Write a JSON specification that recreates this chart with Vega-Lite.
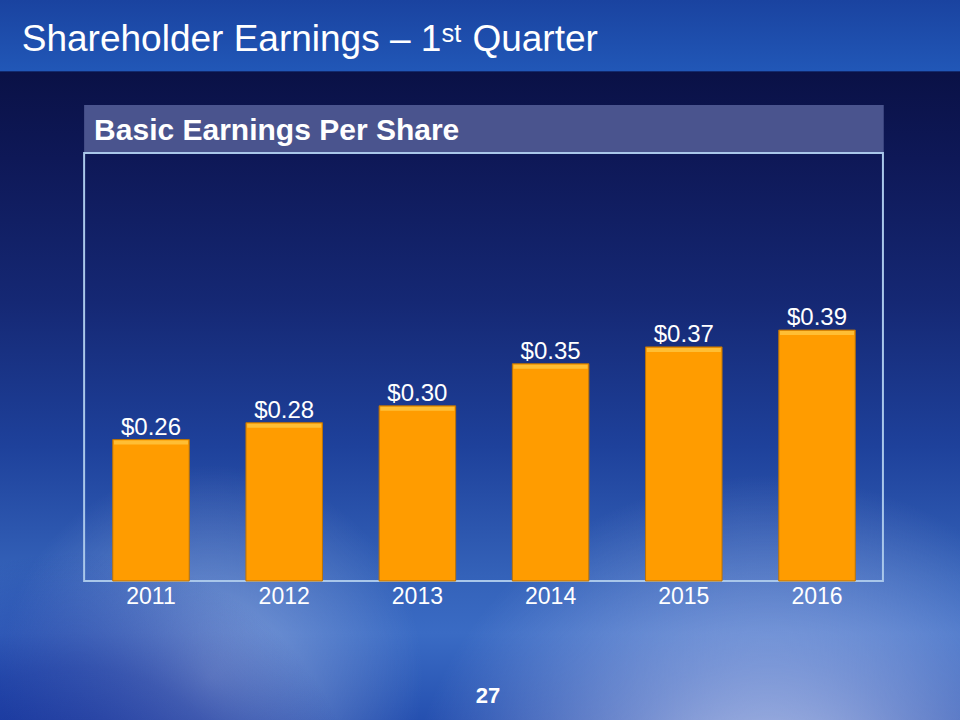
{
  "$schema": "https://vega.github.io/schema/vega-lite/v6.json",
  "width": 960,
  "height": 720,
  "padding": 0,
  "autosize": {"type": "none"},
  "background": "#0c1450",
  "config": {"view": {"stroke": null}, "font": "Liberation Sans"},
  "data": {
    "values": [
      {"year": 2011, "eps": 0.26},
      {"year": 2012, "eps": 0.28},
      {"year": 2013, "eps": 0.30},
      {"year": 2014, "eps": 0.35},
      {"year": 2015, "eps": 0.37},
      {"year": 2016, "eps": 0.39}
    ]
  },
  "layer": [
    {
      "data": {"values": [{"k": 1}]},
      "mark": {
        "type": "rect",
        "fill": {
          "gradient": "linear", "x1": 0, "y1": 0, "x2": 0, "y2": 1,
          "stops": [
            {"offset": 0, "color": "#1a43a0"},
            {"offset": 0.098, "color": "#2157b7"},
            {"offset": 0.1, "color": "#0a1146"},
            {"offset": 0.22, "color": "#0e1857"},
            {"offset": 0.42, "color": "#152874"},
            {"offset": 0.62, "color": "#1e419b"},
            {"offset": 0.8, "color": "#3462b9"},
            {"offset": 0.88, "color": "#3a6bc4"},
            {"offset": 1, "color": "#2550b0"}
          ]
        }
      },
      "encoding": {}
    },
    {
      "data": {"values": [{"k": 1}]},
      "mark": {
        "type": "rect",
        "fill": {
          "gradient": "radial", "x1": 0.22, "y1": 0.83, "r1": 0, "x2": 0.22, "y2": 0.83, "r2": 0.22,
          "stops": [
            {"offset": 0, "color": "rgba(175,190,228,0.6)"},
            {"offset": 1, "color": "rgba(175,190,228,0)"}
          ]
        }
      },
      "encoding": {}
    },
    {
      "data": {"values": [{"k": 1}]},
      "mark": {
        "type": "rect",
        "fill": {
          "gradient": "radial", "x1": 0.08, "y1": 1.0, "r1": 0, "x2": 0.08, "y2": 1.0, "r2": 0.3,
          "stops": [
            {"offset": 0, "color": "rgba(22,45,150,0.85)"},
            {"offset": 0.6, "color": "rgba(22,45,150,0.5)"},
            {"offset": 1, "color": "rgba(22,45,150,0)"}
          ]
        }
      },
      "encoding": {}
    },
    {
      "data": {"values": [{"k": 1}]},
      "mark": {
        "type": "rect",
        "fill": {
          "gradient": "radial", "x1": 0.8, "y1": 1.0, "r1": 0, "x2": 0.8, "y2": 1.0, "r2": 0.38,
          "stops": [
            {"offset": 0, "color": "rgba(240,242,255,0.9)"},
            {"offset": 0.5, "color": "rgba(205,212,245,0.45)"},
            {"offset": 1, "color": "rgba(190,200,240,0)"}
          ]
        }
      },
      "encoding": {}
    },
    {
      "data": {"values": [{"k": 1}]},
      "mark": {"type": "rect", "fill": "#4a548e"},
      "encoding": {
        "x": {"datum": 2010.498, "type": "quantitative", "scale": {"domain": [2009.904, 2017.036], "nice": false, "zero": false}, "axis": null},
        "x2": {"datum": 2016.501},
        "y": {"datum": 0.6573, "type": "quantitative", "scale": {"domain": [-0.0731, 0.782], "nice": false, "zero": false}, "axis": null},
        "y2": {"datum": 0.6003}
      }
    },
    {
      "data": {"values": [{"k": 1}]},
      "mark": {"type": "rect", "fill": "#000000", "fillOpacity": 0, "stroke": "#a9c7ea", "strokeWidth": 2},
      "encoding": {
        "x": {"datum": 2010.498, "type": "quantitative", "scale": {"domain": [2009.904, 2017.036], "nice": false, "zero": false}, "axis": null},
        "x2": {"datum": 2016.495},
        "y": {"datum": 0.6003, "type": "quantitative", "scale": {"domain": [-0.0731, 0.782], "nice": false, "zero": false}, "axis": null},
        "y2": {"datum": 0.092}
      }
    },
    {
      "mark": {"type": "bar", "width": 76.5, "fill": "#ff9c00", "stroke": "#b8720a", "strokeWidth": 1},
      "encoding": {
        "x": {"field": "year", "type": "quantitative", "scale": {"domain": [2009.904, 2017.036], "nice": false, "zero": false}, "axis": null},
        "y": {"field": "eps", "type": "quantitative", "scale": {"domain": [-0.0731, 0.782], "nice": false, "zero": false}, "axis": null},
        "y2": {"datum": 0.092}
      }
    },
    {
      "mark": {"type": "tick", "orient": "horizontal", "size": 74, "thickness": 4, "yOffset": 3, "color": "#ffc23a", "opacity": 0.9},
      "encoding": {
        "x": {"field": "year", "type": "quantitative", "scale": {"domain": [2009.904, 2017.036], "nice": false, "zero": false}, "axis": null},
        "y": {"field": "eps", "type": "quantitative", "scale": {"domain": [-0.0731, 0.782], "nice": false, "zero": false}, "axis": null}
      }
    },
    {
      "mark": {"type": "text", "fill": "#ffffff", "fontSize": 24, "baseline": "alphabetic", "align": "center", "dy": -5},
      "encoding": {
        "x": {"field": "year", "type": "quantitative", "scale": {"domain": [2009.904, 2017.036], "nice": false, "zero": false}, "axis": null},
        "y": {"field": "eps", "type": "quantitative", "scale": {"domain": [-0.0731, 0.782], "nice": false, "zero": false}, "axis": null},
        "text": {"field": "eps", "type": "quantitative", "format": "$.2f"}
      }
    },
    {
      "mark": {"type": "text", "fill": "#ffffff", "fontSize": 23, "baseline": "alphabetic", "align": "center"},
      "encoding": {
        "x": {"field": "year", "type": "quantitative", "scale": {"domain": [2009.904, 2017.036], "nice": false, "zero": false}, "axis": null},
        "y": {"datum": 0.0647, "type": "quantitative", "scale": {"domain": [-0.0731, 0.782], "nice": false, "zero": false}, "axis": null},
        "text": {"field": "year", "type": "quantitative", "format": "d"}
      }
    },
    {
      "data": {"values": [{"t": "Shareholder Earnings – 1ˢᵗ Quarter"}]},
      "mark": {"type": "text", "fill": "#ffffff", "fontSize": 37, "baseline": "alphabetic", "align": "left", "font": "Liberation Sans, DejaVu Sans"},
      "encoding": {
        "x": {"datum": 2010.03, "type": "quantitative", "scale": {"domain": [2009.904, 2017.036], "nice": false, "zero": false}, "axis": null},
        "y": {"datum": 0.7214, "type": "quantitative", "scale": {"domain": [-0.0731, 0.782], "nice": false, "zero": false}, "axis": null},
        "text": {"field": "t", "type": "nominal"}
      }
    },
    {
      "data": {"values": [{"t": "Basic Earnings Per Share"}]},
      "mark": {"type": "text", "fill": "#ffffff", "fontSize": 30, "fontWeight": "bold", "baseline": "alphabetic", "align": "left"},
      "encoding": {
        "x": {"datum": 2010.573, "type": "quantitative", "scale": {"domain": [2009.904, 2017.036], "nice": false, "zero": false}, "axis": null},
        "y": {"datum": 0.6157, "type": "quantitative", "scale": {"domain": [-0.0731, 0.782], "nice": false, "zero": false}, "axis": null},
        "text": {"field": "t", "type": "nominal"}
      }
    },
    {
      "data": {"values": [{"t": "27"}]},
      "mark": {"type": "text", "fill": "#ffffff", "fontSize": 22, "fontWeight": "bold", "baseline": "alphabetic", "align": "center"},
      "encoding": {
        "x": {"datum": 2013.53, "type": "quantitative", "scale": {"domain": [2009.904, 2017.036], "nice": false, "zero": false}, "axis": null},
        "y": {"datum": -0.0529, "type": "quantitative", "scale": {"domain": [-0.0731, 0.782], "nice": false, "zero": false}, "axis": null},
        "text": {"field": "t", "type": "nominal"}
      }
    }
  ]
}
